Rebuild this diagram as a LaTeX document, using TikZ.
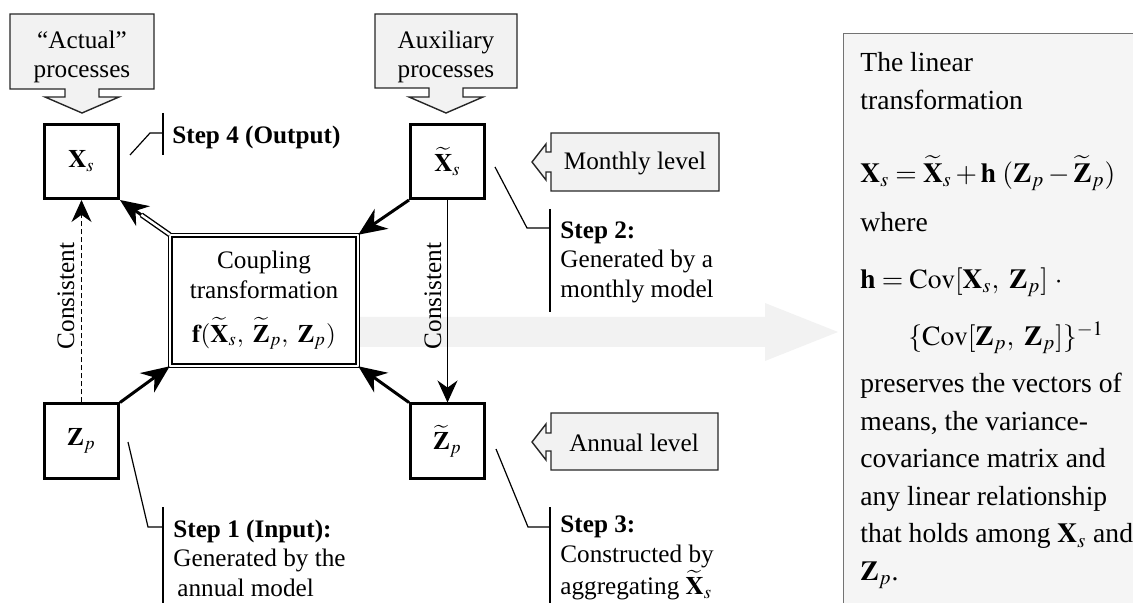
\documentclass[tikz,border=0pt]{standalone}
\usepackage{mathptmx}
\usepackage{fontspec}
\setmainfont{Liberation Serif}
\usetikzlibrary{arrows.meta,calc}

\begin{document}
\begin{tikzpicture}[x=0.5pt,y=-0.5pt,
    every node/.style={font=\fontsize{12.6}{14.8}\selectfont},
    varbox/.style={draw,line width=1.5pt,minimum size=37pt,inner sep=0pt},
    callout/.style={draw=black!85,line width=0.7pt,fill=black!5},
    steptext/.style={anchor=west,align=left,inner sep=0pt},
    notetext/.style={anchor=west,align=left,inner sep=0pt,font=\fontsize{13.8}{19}\selectfont},
    leader/.style={line width=0.6pt},
    bigarrow/.style={line width=1.5pt,-{Stealth[length=14pt,width=12pt]}},
    thinarrow/.style={line width=0.6pt,-{Stealth[length=11pt,width=10pt]}}]
    \useasboundingbox (0,0) rectangle (1133,603);
    \node[draw=black!55,fill=black!4,line width=0.6pt,inner sep=0pt,minimum width=148pt,minimum height=288pt] (note) at (991.5,321.5) {};
    \fill[black!5] (360,317) -- (765,317) -- (765,303) -- (838,332) -- (765,361) -- (765,347) -- (360,347) -- cycle;
    \draw[callout] (10,14) -- (154,14) -- (154,89) -- (99,89) -- (99,97) -- (119,97) -- (82,113) -- (45,97) -- (65,97) -- (65,89) -- (10,89) -- cycle;
    \draw[callout] (375,14) -- (517,14) -- (517,88) -- (463,88) -- (463,97) -- (483,97) -- (446,113) -- (409,97) -- (429,97) -- (429,88) -- (375,88) -- cycle;
    \draw[callout] (551,133) -- (719,133) -- (719,191) -- (551,191) -- (551,172) -- (546,172) -- (546,180) -- (532,162) -- (546,144) -- (546,152) -- (551,152) -- cycle;
    \draw[callout] (551,413) -- (718,413) -- (718,470) -- (551,470) -- (551,451) -- (546,451) -- (546,460) -- (532,442) -- (546,424) -- (546,433) -- (551,433) -- cycle;
    \node[align=center,inner sep=0pt] (act) at (82,57) {``Actual''\\processes};
    \node[align=center,inner sep=0pt] (aux) at (446,57) {Auxiliary\\processes};
    \node (mon) at (635,163) {Monthly level};
    \node (ann) at (634,443) {Annual level};
    \node[varbox] (xs) at (81.5,161.5) {$\mathbf{X}_s$};
    \node[varbox] (xst) at (447.5,161.5) {$\widetilde{\mathbf{X}}_s$};
    \node[varbox] (zp) at (81.5,441) {$\mathbf{Z}_p$};
    \node[varbox] (zpt) at (447.5,441) {$\widetilde{\mathbf{Z}}_p$};
    \node[draw,double,double distance=1pt,line width=0.7pt,minimum width=93.6pt,minimum height=65.1pt,align=center,inner sep=0pt] (cpl) at (264,300.5) {Coupling\\transformation\\[7pt]$\mathbf{f}(\widetilde{\mathbf{X}}_s,\ \widetilde{\mathbf{Z}}_p,\ \mathbf{Z}_p)$};
    \draw[bigarrow] (zp.north east) -- (cpl.south west);
    \draw[bigarrow] (zpt.north west) -- (cpl.south east);
    \draw[bigarrow] (xst.south west) -- (cpl.north east);
    \draw[bigarrow] (cpl.north west) -- (xs.south east);
    \draw[line width=0.7pt,double,double distance=1.2pt,shorten >=13pt] (cpl.north west) -- (xs.south east);
    \draw[thinarrow,dash pattern=on 2.5pt off 1.5pt] (zp.north) -- (xs.south);
    \draw[thinarrow] (xst.south) -- (zpt.south |- zpt.north);
    \node[rotate=90] (con1) at (66,296) {Consistent};
    \node[rotate=90] (con2) at (433,296) {Consistent};
    \node[steptext] (s4) at (172,137) {\textbf{Step 4 (Output)}};
    \node[steptext] (s2) at (560,262) {\textbf{Step 2:}\\Generated by a\\monthly model};
    \node[steptext] (s1) at (173,558) {\textbf{Step 1 (Input):}\\Generated by the\\\hspace{2pt}annual model};
    \node[steptext] (s3) at (560,558) {\textbf{Step 3:}\\Constructed by\\aggregating $\widetilde{\mathbf{X}}_s$};
    \draw[leader] (130,155) -- (150,133) -- (163,133);
    \draw[leader] (163,113) -- (163,155);
    \draw[leader] (495,167) -- (527,228) -- (550,228);
    \draw[leader] (550,209) -- (550,312);
    \draw[leader] (128,442) -- (148,527) -- (163,527);
    \draw[leader] (163,507) -- (163,603);
    \draw[leader] (496,449) -- (528,527) -- (550,527);
    \draw[leader] (550,507) -- (550,603);
    \node[notetext] (n1) at (860,81) {The linear\\transformation};
    \node[notetext] (n2) at (860,173) {$\mathbf{X}_s = \widetilde{\mathbf{X}}_s + \mathbf{h}\;(\mathbf{Z}_p - \widetilde{\mathbf{Z}}_p)$};
    \node[notetext] (n3) at (860,222) {where};
    \node[notetext] (n4) at (860,282) {$\mathbf{h} = \mathrm{Cov}[\mathbf{X}_s,\ \mathbf{Z}_p]\ \cdot$};
    \node[notetext] (n5) at (908,338) {$\{\mathrm{Cov}[\mathbf{Z}_p,\ \mathbf{Z}_p]\}^{-1}$};
    \node[notetext,font=\fontsize{13.8}{18.8}\selectfont] (n6) at (860,481) {preserves the vectors of\\means, the variance-\\covariance matrix and\\any linear relationship\\that holds among $\mathbf{X}_s$ and\\$\mathbf{Z}_p$.};
\end{tikzpicture}
\end{document}
